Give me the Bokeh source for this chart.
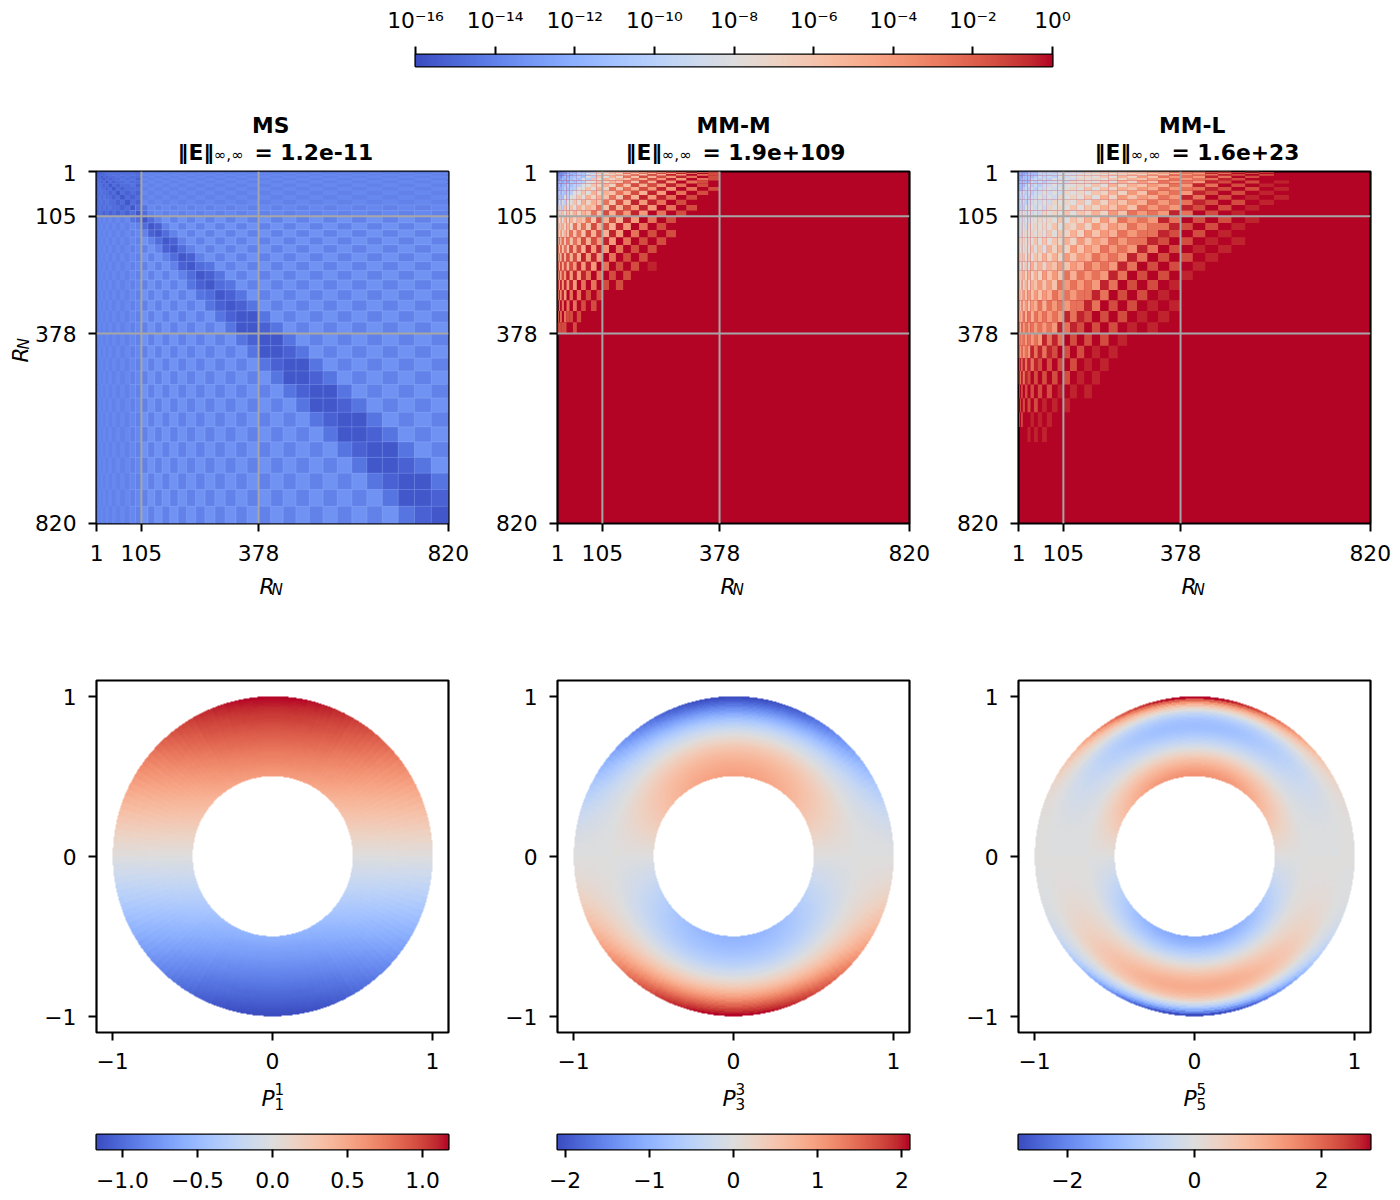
import math
import numpy as np
from bokeh.embed import file_html
from bokeh.resources import INLINE
from bokeh.layouts import column, row
from bokeh.models import (ColumnDataSource, FixedTicker, Label, LinearColorMapper, Range1d, Span)
from bokeh.plotting import figure
from bokeh.transform import transform

# ---------- data ----------
TICKS_RN = [1, 105, 378, 820]
RING_TICKS = [-1, 0, 1]
TOP_TICKS = [-16, -14, -12, -10, -8, -6, -4, -2, 0]
TOP_LABELS = ["10⁻¹⁶", "10⁻¹⁴", "10⁻¹²", "10⁻¹⁰", "10⁻⁸", "10⁻⁶", "10⁻⁴", "10⁻²", "10⁰"]
TITLES = ["MS", "MM-M", "MM-L"]
NORMS = ["= 1.2e-11", "= 1.9e+109", "= 1.6e+23"]
RING_SUB = ["1", "3", "5"]
CB_LIMITS = [1.173, 2.09, 2.77]
CB_TICKS = [[-1.0, -0.5, 0.0, 0.5, 1.0], [-2, -1, 0, 1, 2], [-2, 0, 2]]
CB_LABELS = [["−1.0", "−0.5", "0.0", "0.5", "1.0"], ["−2", "−1", "0", "1", "2"], ["−2", "0", "2"]]

# Each string is one degree row, starting on the diagonal; one character per
# degree-pair block, base 17 (0=1e-16 ... g=1e0). Anything not typed is saturated.
MM_M = ["222233454656688a9badbecfdge", "2233354556588a9b9daebfcgde", "23334546586a8b9dadbecfdge",
        "33454556688a9badaebfcgde", "454556586a8b9daebecfdge", "4556586a8b9badbecfcgde",
        "4656688a9badaebfcgde", "56688a9b9daebecfdgeg", "688a8b9dadbecfcgdge",
        "8a8b9badbebfcgdge", "8b9badaebfcfdgeg", "9badaebfcfdgeg", "adaebecfcgdge",
        "aebecfcgdgeg", "bebfcgdgeg", "bfcgdgeg", "cgdgege", "dgege", "ege", "eg", "f"]
MM_L = ["4444445557676778798a8a9bacbdcfdgeg", "4444455567677878898a8b9cadcddfegeg",
        "44445557676878798a8a9bacbdcfdgeg", "44555567677879898a9b9cadcddfegeg",
        "555567676878898a8b9cadcdcfdgeg", "556767687879898a9bacbdcddfeg",
        "5767677879898a8b9cadcdcfegegfg", "67677878898a8b9bacbdcfdgegfgg", "677878898a8a9bacbdcddfegegfg",
        "787879898a9b9cadcdcfegegfg", "7879898a8b9cacbdcfdgegfgf", "79898a8b9bacbdcddfegegfg",
        "898a8a9bacadcdcfegegfg", "8a8a9b9cadcdcfdgegfg", "8a9b9cadcdcfdgegegfg", "9b9cacbdcddfegegfg",
        "9cacbdcddfegegfg", "acbdcddfegegfgf", "bdcdcfdgegfgfg", "cdcfdgegegfg", "cfdgegegfg",
        "dgegegfg", "egegfgg", "egfg", "fgf", "f"]
# MS: digits on a narrow log range, see MS_LEVEL
MS = ["1233434343434356565656565656565656565656", "132334343434365656565656565656565656565",
      "13233434343356565656565656565656565656", "1323343434365656565656565656565656565",
      "132334343356565656565656565656565656", "13233434265656565656565656565656565",
      "1323343356565656565656565656565656", "132334265656565656565656565656565",
      "13233356565656565656565656565656", "1323265656565656565656565656565",
      "132356565656565656565656565656", "13265656565656565656565656565",
      "1346565656565656565656565656", "135656565656565656565656565",
      "13575757575757575757575757", "1257575757575757575757575", "135757575757575757575757",
      "12575757575757575757575", "1357575757575757575757", "125757575757575757575",
      "13475757575757575757", "1247575757575757575", "134757575757575757",
      "12475757575757575", "1247575757575757", "114757575757575", "12475757575757",
      "1147575757575", "124757575757", "11475757575", "1247575757", "114757575",
      "12475757", "1147575", "124757", "11475", "1247", "114", "12", "1"]
MS_LEVEL = {1: -15.6, 2: -15.2, 3: -14.8, 4: -14.5, 5: -14.0, 6: -13.7, 7: -13.3}
TOP_LEVEL = {13: -2.6, 14: -1.4, 15: -0.5, 16: 0.0}

# Radial profiles along the top of each ring, r = 0.5 (first) to r = 1.0 (last)
P1_RADIAL = [0.58, 0.60, 0.62, 0.64, 0.66, 0.68, 0.70, 0.72, 0.73, 0.75, 0.77, 0.79, 0.81, 0.83, 0.85, 0.87,
             0.88, 0.90, 0.92, 0.94, 0.96, 0.98, 1.00, 1.02, 1.03, 1.05, 1.07, 1.09, 1.11, 1.13, 1.15, 1.17]
P3_RADIAL = [0.98, 0.95, 0.92, 0.89, 0.86, 0.82, 0.78, 0.73, 0.68, 0.62, 0.55, 0.48, 0.40, 0.31, 0.22, 0.12,
             0.02, -0.09, -0.20, -0.32, -0.45, -0.58, -0.72, -0.87, -1.02, -1.18, -1.34, -1.50, -1.66, -1.82, -1.96, -2.09]
P5_RADIAL = [1.50, 1.42, 1.32, 1.20, 1.08, 0.93, 0.78, 0.62, 0.45, 0.28, 0.10, -0.08, -0.25, -0.42, -0.58, -0.72,
             -0.85, -0.96, -1.05, -1.10, -1.12, -1.08, -1.00, -0.86, -0.66, -0.38, -0.02, 0.38, 0.85, 1.40, 2.05, 2.77]
# Relative strength by angle from the x axis, 2.5-degree sectors in one quadrant:
# the inner zone of a ring, then the faster fall-offs seen in its outer zones.
ANG_INNER = [.02, .065, .11, .15, .196, .24, .28, .326, .37, .41, .45, .49, .53, .57, .60, .64, .67, .71,
             .74, .77, .80, .83, .85, .87, .90, .92, .93, .95, .96, .975, .98, .99, .995, 1.0, 1.0, 1.0]
ANG_OUTER_A = [.003, .017, .036, .058, .087, .117, .148, .186, .225, .263, .302, .343, .386, .43, .465, .51, .55, .60,
               .637, .676, .716, .756, .783, .81, .855, .88, .90, .925, .94, .96, .97, .985, .99, 1.0, 1.0, 1.0]
ANG_OUTER_B = [.001, .004, .012, .023, .039, .057, .08, .106, .136, .17, .20, .24, .28, .32, .36, .41, .45, .50,
               .55, .59, .64, .68, .72, .76, .80, .84, .87, .90, .93, .95, .97, .98, .99, 1.0, 1.0, 1.0]
ANG_OUTER_C = [0, 0, .001, .004, .008, .014, .022, .035, .05, .07, .09, .118, .149, .185, .22, .26, .30, .35,
               .41, .46, .51, .57, .61, .66, .72, .77, .81, .86, .89, .92, .95, .97, .99, 1.0, 1.0, 1.0]
RING_ZONES = [[(0, ANG_INNER)], [(0, ANG_INNER), (16, ANG_OUTER_A)], [(0, ANG_INNER), (11, ANG_OUTER_B), (26, ANG_OUTER_C)]]

COOLWARM = [(59,76,192),(68,90,204),(77,104,215),(87,117,225),(98,130,234),(108,142,241),(119,154,247),
            (130,165,251),(141,176,254),(152,185,255),(163,194,255),(174,201,253),(184,208,249),(194,213,244),
            (204,217,238),(213,219,230),(221,221,221),(229,216,209),(236,211,197),(241,204,185),(245,196,173),
            (247,187,160),(247,177,148),(247,166,135),(244,154,123),(241,141,111),(236,127,99),(229,112,88),
            (222,96,77),(213,80,66),(203,62,56),(192,40,47),(180,4,38)]

# ---------- style ----------
FONT = "DejaVu Sans"
FS = "21.8px"
FS2 = "15.2px"
_c = np.array(COOLWARM, float)
_x = np.linspace(0, 1, len(COOLWARM))
PALETTE = ["#%02x%02x%02x" % tuple(int(round(np.interp(t, _x, _c[:, k]))) for k in range(3)) for t in np.linspace(0, 1, 256)]
PANEL_X = [96, 557, 1018]
W = 352
CELLS = [(0, 498), (498, 461), (959, 433)]
HEAT_CELLS = [(30, 460), (490, 461), (951, 441)]
TOTAL = 1392
STRIP_BOTTOM = 164


def style_axis(ax, ticks, labels=None, standoff=12):
    ax.ticker = FixedTicker(ticks=list(ticks))
    ax.axis_line_color = None
    ax.major_tick_line_color = "black"
    ax.major_tick_line_width = 2
    ax.major_tick_out = 8
    ax.major_tick_in = 0
    ax.minor_tick_line_color = None
    ax.major_label_text_font = FONT
    ax.major_label_text_font_size = FS
    ax.major_label_text_color = "black"
    ax.major_label_standoff = standoff
    if labels:
        ax.major_label_overrides = {t: s for t, s in zip(ticks, labels)}


def make_fig(x0, y0, width, height, fl, ft, fw, fh, xr, yr, **kw):
    p = figure(width=width, height=height, frame_width=fw, frame_height=fh,
               x_range=xr, y_range=yr, output_backend="svg", toolbar_location=None, **kw)
    p.min_border_left = fl - x0
    p.min_border_right = x0 + width - fl - fw
    p.min_border_top = ft - y0
    p.min_border_bottom = y0 + height - ft - fh
    p.outline_line_color = "black"
    p.outline_line_width = 2.2
    p.outline_line_alpha = 1
    p.grid.visible = False
    p.background_fill_color = "white"
    p.border_fill_color = "white"
    p.frame_align = False
    return p


def strip(x0, y0, width, height):
    """Caption band: an axis-free figure whose data coordinates are page pixels."""
    p = figure(width=width, height=height, frame_width=width, frame_height=height,
               x_range=Range1d(x0, x0 + width), y_range=Range1d(y0 + height, y0),
               x_axis_location=None, y_axis_location=None,
               output_backend="svg", toolbar_location=None, min_border=0)
    p.outline_line_color = None
    p.grid.visible = False
    p.border_fill_color = "white"
    p.background_fill_color = "white"
    p.frame_align = False
    return p


def put(p, x, y, text, size=FS, style="normal", angle=0.0):
    p.add_layout(Label(x=x, y=y, x_units="data", y_units="data", text=text, text_font=FONT,
                       text_font_size=size, text_font_style=style, text_color="black",
                       text_baseline="alphabetic", text_align="left", angle=angle))


def parse(rows, n, ms=False):
    m = np.zeros((n, n))
    for r in range(n):
        s = rows[r] if r < len(rows) else ""
        for c in range(r, n):
            ch = s[c - r] if c - r < len(s) else ("6" if ms else "g")
            k = int(ch, 17)
            v = MS_LEVEL[k] if ms else TOP_LEVEL.get(k, -16 + k)
            m[r, c] = v
            m[c, r] = v
    return m


EDGES = [0.5 + d * (d + 1) / 2 for d in range(41)]
MAPPER_LOG = LinearColorMapper(palette=PALETTE, low=-16, high=0)


def heat_panel(i, rows, ms):
    x0, wd = HEAT_CELLS[i]
    p = make_fig(x0, STRIP_BOTTOM, wd, 570 - STRIP_BOTTOM, PANEL_X[i], 171, W, W, Range1d(0.5, 820.5), Range1d(820.5, 0.5))
    p.background_fill_color = "#6b8cf0" if ms else PALETTE[-1]
    style_axis(p.xaxis[0], TICKS_RN, standoff=13)
    style_axis(p.yaxis[0], TICKS_RN)
    m = parse(rows, 40, ms)
    le, ri, to, bo, lv, la = [], [], [], [], [], []
    for r in range(40):
        for c in range(40):
            if m[r, c] >= 0:
                continue
            le.append(EDGES[c]); ri.append(EDGES[c + 1]); to.append(EDGES[r]); bo.append(EDGES[r + 1]); lv.append(m[r, c])
            la.append(0.28 if min(r, c) >= 12 else 0.0)
    src = ColumnDataSource(dict(left=le, right=ri, top=to, bottom=bo, lev=lv, la=la))
    col = transform("lev", MAPPER_LOG)
    if ms:
        p.quad(left="left", right="right", top="top", bottom="bottom", source=src, fill_color=col,
               line_color="#a9bfff", line_alpha="la", line_width=0.7)
    else:
        p.quad(left="left", right="right", top="top", bottom="bottom", source=src, fill_color=col, line_color=None)
    for t in (105, 378):
        p.add_layout(Span(location=t, dimension="width", line_color="#a6a6a6", line_width=2))
        p.add_layout(Span(location=t, dimension="height", line_color="#a6a6a6", line_width=2))
    return p


def ring_panel(i, radial):
    x0, wd = CELLS[i]
    p = make_fig(x0, 600, wd, 476, PANEL_X[i], 680, W, W, Range1d(-1.1, 1.1), Range1d(-1.1, 1.1))
    style_axis(p.xaxis[0], RING_TICKS, ["−1", "0", "1"], 12)
    style_axis(p.yaxis[0], RING_TICKS, ["−1", "0", "1"])
    n = 640
    g = (np.arange(n) + 0.5) / n * 2 - 1
    xx, yy = np.meshgrid(g, g)
    rr = np.hypot(xx, yy)
    th = np.arctan2(np.abs(yy), np.abs(xx))
    nr = len(radial)
    na = len(ANG_INNER)
    table = np.zeros((nr, na))
    for start, ang in RING_ZONES[i]:
        table[start:, :] = np.array(ang)
    ir = np.clip(((rr - 0.5) / 0.5 * nr).astype(int), 0, nr - 1)
    ia = np.clip((th / (np.pi / 2) * na).astype(int), 0, na - 1)
    val = np.sign(yy) * np.array(radial)[ir] * table[ir, ia]
    val[(rr < 0.5) | (rr > 1.0)] = np.nan
    mp = LinearColorMapper(palette=PALETTE, low=-CB_LIMITS[i], high=CB_LIMITS[i], nan_color="#00000000")
    p.image(image=[val], x=-1, y=-1, dw=2, dh=2, color_mapper=mp)
    return p


def bar_panel(i):
    x0, wd = CELLS[i]
    lim = CB_LIMITS[i]
    p = make_fig(x0, 1112, wd, 80, PANEL_X[i], 1134, W, 15, Range1d(-lim, lim), Range1d(0, 1))
    p.yaxis.visible = False
    style_axis(p.xaxis[0], CB_TICKS[i], CB_LABELS[i], 14)
    p.image(image=[np.linspace(-lim, lim, 256).reshape(1, -1)], x=-lim, y=0, dw=2 * lim, dh=1,
            color_mapper=LinearColorMapper(palette=PALETTE, low=-lim, high=lim))
    return p


top = make_fig(0, 0, TOTAL, 92, 415, 54, 637, 12, Range1d(-16, 0), Range1d(0, 1), x_axis_location="above")
top.yaxis.visible = False
style_axis(top.xaxis[0], TOP_TICKS, TOP_LABELS, 14)
top.image(image=[np.linspace(-16, 0, 256).reshape(1, -1)], x=-16, y=0, dw=16, dh=1, color_mapper=MAPPER_LOG)

# Titles
titles = strip(0, 92, TOTAL, STRIP_BOTTOM - 92)
TITLE_W = [41, 74, 71]
NORM_X = [177, 625, 1094]
for i in range(3):
    cx = PANEL_X[i] + W / 2
    put(titles, cx - TITLE_W[i] / 2, 125, TITLES[i], style="bold")
    put(titles, NORM_X[i], 152, "‖E‖", style="bold")
    put(titles, NORM_X[i] + 36, 154, "∞,∞", size=FS2)
    put(titles, NORM_X[i] + 77, 152, NORMS[i], style="bold")

# Rotated y label
ylab = strip(0, STRIP_BOTTOM, 30, 570 - STRIP_BOTTOM)
put(ylab, 20, 362, "R", style="italic", angle=math.pi / 2)
put(ylab, 23, 349, "N", size=FS2, style="italic", angle=math.pi / 2)

# x labels of the heat maps
xlab = strip(0, 570, TOTAL, 30)
for i in range(3):
    cx = PANEL_X[i] + W / 2
    put(xlab, cx - 13, 586, "R", style="italic")
    put(xlab, cx - 1, 589, "N", size=FS2, style="italic")

# x labels of the rings
plab = strip(0, 1076, TOTAL, 36)
for i in range(3):
    cx = PANEL_X[i] + W / 2
    put(plab, cx - 11, 1098, "P", style="italic")
    put(plab, cx + 2, 1088, RING_SUB[i], size=FS2)
    put(plab, cx + 2, 1103, RING_SUB[i], size=FS2)

layout = column(
    top,
    titles,
    row(ylab, heat_panel(0, MS, True), heat_panel(1, MM_M, False), heat_panel(2, MM_L, False)),
    xlab,
    row(ring_panel(0, P1_RADIAL), ring_panel(1, P3_RADIAL), ring_panel(2, P5_RADIAL)),
    plab,
    row(bar_panel(0), bar_panel(1), bar_panel(2)),
)
open("out.html", "w").write(file_html(layout, INLINE))
